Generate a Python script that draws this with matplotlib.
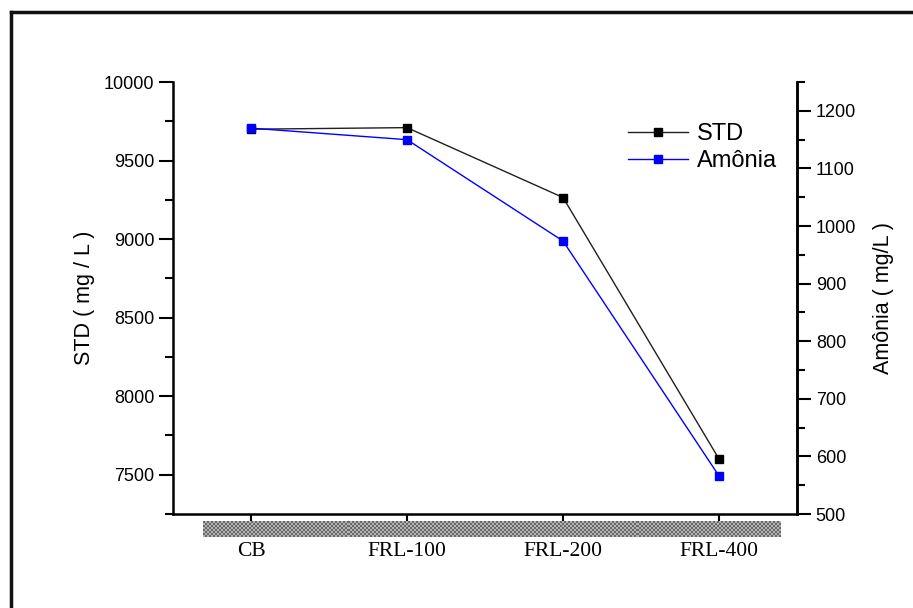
import numpy as np
import matplotlib
matplotlib.use("Agg")
import matplotlib.pyplot as plt
from matplotlib.lines import Line2D
from matplotlib.ticker import MultipleLocator

# samples and measured values
amostras = ["CB", "FRL-100", "FRL-200", "FRL-400"]
std_vals = [9700, 9710, 9265, 7600]        # mg/L
amonia_vals = [1170, 1150, 974, 566]       # mg/L

plt.rcParams["font.family"] = ["Liberation Sans", "DejaVu Sans"]

fig = plt.figure(figsize=(9.13, 6.08), dpi=100)
ax = fig.add_axes([0.1895, 0.1546, 0.6835, 0.7104])
ax2 = ax.twinx()

x = np.arange(len(amostras))
l1, = ax.plot(x, std_vals, color="#202020", lw=1.0, marker="s", ms=6.3,
              mfc="black", mec="black", label="STD")
l2, = ax2.plot(x, amonia_vals, color="#0000ff", lw=1.0, marker="s", ms=6.3,
               mfc="#0000ff", mec="#0000ff", label="Amônia")

ax.set_xlim(-0.5, 3.5)
ax.set_ylim(7250, 10000)
ax2.set_ylim(500, 1250)

ax.yaxis.set_major_locator(MultipleLocator(500))
ax.yaxis.set_minor_locator(MultipleLocator(250))
ax2.yaxis.set_major_locator(MultipleLocator(100))
ax2.yaxis.set_minor_locator(MultipleLocator(50))

for a in (ax, ax2):
    a.spines["top"].set_visible(False)
    for s in ("left", "right", "bottom"):
        a.spines[s].set_linewidth(1.8)
    a.tick_params(which="major", length=10, width=1.5, direction="out", labelsize=13)
    a.tick_params(which="minor", length=6, width=1.5, direction="out")
ax.tick_params(axis="x", length=13, pad=7)
ax2.spines["left"].set_visible(False)
ax2.spines["bottom"].set_visible(False)

ax.set_xticks(x)
ax.set_xticklabels(amostras, family="Liberation Serif", fontsize=15.5)

ax.set_ylabel("STD ( mg / L )", fontsize=15.5, labelpad=6)
ax2.set_ylabel("Amônia ( mg/L )", fontsize=15.5, labelpad=12)

ax.legend(handles=[l1, l2], loc="upper left", bbox_to_anchor=(0.729, 0.905),
          frameon=False, fontsize=17, handlelength=2.55, handletextpad=0.38,
          labelspacing=0.2, borderaxespad=0, borderpad=0)

# checkered band under the category axis
band = fig.add_axes([0.2223, 0.1168, 0.632, 0.0263])
cells = np.indices((8, 288)).sum(axis=0) % 2
band.imshow(cells, cmap="gray", vmin=-1.4, vmax=2.0, aspect="auto",
            interpolation="nearest")
band.set_axis_off()

# outer frame (left and top edges)
fig.add_artist(Line2D([0.012, 0.012], [0.0, 0.981], color="#111111", lw=2.5,
                      transform=fig.transFigure))
fig.add_artist(Line2D([0.012, 1.0], [0.981, 0.981], color="#111111", lw=2.5,
                      transform=fig.transFigure))

fig.savefig("out.png", dpi=100)
